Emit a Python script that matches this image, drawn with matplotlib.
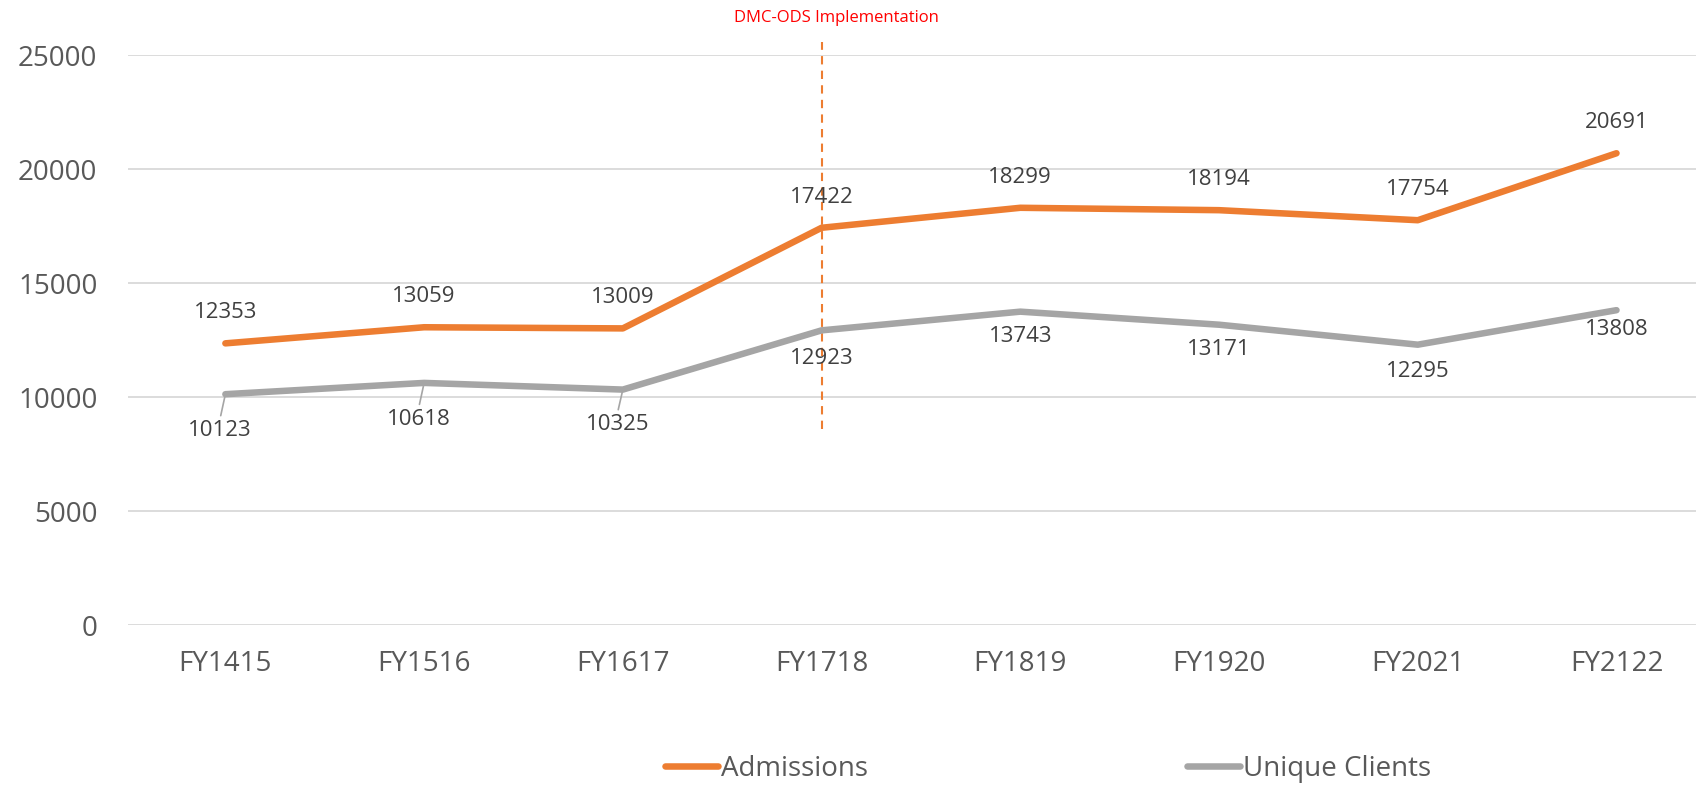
import matplotlib
matplotlib.use("Agg")
import matplotlib.pyplot as plt
from matplotlib.lines import Line2D

categories = ["FY1415", "FY1516", "FY1617", "FY1718", "FY1819", "FY1920", "FY2021", "FY2122"]
admissions = [12353, 13059, 13009, 17422, 18299, 18194, 17754, 20691]
unique_clients = [10123, 10618, 10325, 12923, 13743, 13171, 12295, 13808]
yticks = [0, 5000, 10000, 15000, 20000, 25000]
event_label = "DMC-ODS Implementation"
event_index = 3

ORANGE = "#ED7D31"
GRAY = "#A5A5A5"
TXT = "#595959"
LBL = "#404040"

plt.rcParams['font.family'] = ['Open Sans', 'DejaVu Sans']

W, H = 1696, 786
fig = plt.figure(figsize=(W / 100, H / 100), dpi=100)
ax = fig.add_axes([128 / W, 161 / H, (W - 128) / W, (625 - 55) / H])

x = list(range(len(categories)))
ax.plot(x, admissions, color=ORANGE, lw=4.7, solid_capstyle='round', solid_joinstyle='round', zorder=3)
ax.plot(x, unique_clients, color=GRAY, lw=4.7, solid_capstyle='round', solid_joinstyle='round', zorder=3)

ax.set_xlim(-0.49, 7.40)
ax.set_ylim(0, 25000)
ax.set_yticks(yticks)
ax.set_xticks(x)
ax.set_xticklabels(categories)
ax.tick_params(axis='both', length=0, labelsize=20, labelcolor=TXT)
ax.tick_params(axis='y', pad=22)
ax.tick_params(axis='x', pad=18)
ax.grid(axis='y', color="#D9D9D9", lw=1.3)
ax.set_axisbelow(True)
for s in ax.spines.values():
    s.set_visible(False)

# data labels
for i, v in enumerate(admissions):
    ax.annotate(str(v), (i, v), xytext=(0, 22), textcoords='offset points',
                ha='center', va='center', fontsize=16, color=LBL)

below_offsets = [(-4, -26), (-4, -26), (-4, -25), (0, -20), (0, -18), (0, -18), (0, -19), (0, -14)]
for i, v in enumerate(unique_clients):
    dx, dy = below_offsets[i]
    if i < 3:
        ax.annotate(str(v), (i, v), xytext=(dx, dy), textcoords='offset points',
                    ha='center', va='center', fontsize=16, color=LBL, zorder=2,
                    arrowprops=dict(arrowstyle='-', color=GRAY, lw=1.2,
                                    shrinkA=1, shrinkB=0, relpos=(0.5, 1.0)))
    else:
        ax.annotate(str(v), (i, v), xytext=(dx, dy), textcoords='offset points',
                    ha='center', va='center', fontsize=16, color=LBL)

# event line
ax.plot([event_index, event_index], [8596, 25570], color=ORANGE, lw=1.5,
        ls=(0, (4, 3)), clip_on=False, zorder=2)
ax.text(event_index + 0.075, 1 + 37 / 570, event_label, transform=ax.get_xaxis_transform(),
        ha='center', va='center', fontsize=12, color="#FF0000")

# legends
h1 = Line2D([], [], color=ORANGE, lw=4.7, solid_capstyle='round')
h2 = Line2D([], [], color=GRAY, lw=4.7, solid_capstyle='round')
for h, lab, xl in [(h1, "Admissions", 665), (h2, "Unique Clients", 1187)]:
    fig.legend([h], [lab], loc='center left', bbox_to_anchor=(xl / W, 1 - 769 / H),
               frameon=False, fontsize=20, handlelength=1.9, handletextpad=0.12,
               borderpad=0, borderaxespad=0, labelcolor=TXT)

fig.savefig("out.png", dpi=100)
